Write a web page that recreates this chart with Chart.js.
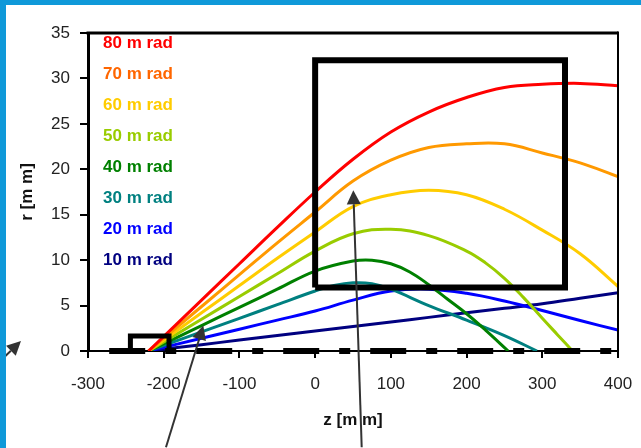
<!DOCTYPE html>
<html>
<head>
<meta charset="utf-8">
<script src="https://cdn.jsdelivr.net/npm/chart.js@4.4.1/dist/chart.umd.min.js"></script>
<style>
  html, body { margin: 0; padding: 0; background: #fff; }
</style>
</head>
<body>
<canvas id="beamChart" width="641" height="448"></canvas>
<script>
// z positions (mm) and radius (mm) for each beam angle
var zFull = [-220, -150, -100, -50, 0, 50, 100, 150, 200, 250, 300, 350, 400]
var r80 = [0, 5.6, 9.6, 13.6, 17.5, 21.1, 24.1, 26.3, 27.9, 29.0, 29.35, 29.45, 29.2]
var r70 = [0, 4.9, 8.4, 11.9, 15.3, 18.7, 21.0, 22.4, 22.8, 22.8, 21.8, 20.7, 19.2]
var r60 = [0, 4.2, 7.2, 10.2, 13.1, 15.9, 17.2, 17.7, 17.2, 15.6, 13.3, 10.7, 7.1]
var z50 = [-220, -150, -100, -50, 0, 50, 100, 150, 200, 225, 250, 275, 300, 320, 340]
var r50 = [0, 3.5, 6.0, 8.5, 11.0, 12.9, 13.4, 12.7, 11.0, 9.7, 8.0, 5.9, 3.6, 1.8, 0]
var z40 = [-220, -150, -100, -50, 0, 50, 75, 100, 125, 150, 175, 200, 225, 255]
var r40 = [0, 2.8, 4.8, 6.8, 8.8, 9.9, 10.0, 9.6, 8.7, 7.3, 5.7, 4.1, 2.3, 0]
var z30 = [-220, -150, -100, -50, 0, 25, 50, 75, 100, 150, 200, 250, 293]
var r30 = [0, 2.1, 3.6, 5.1, 6.6, 7.2, 7.5, 7.4, 6.8, 5.0, 3.4, 1.7, 0]
var r20 = [0, 1.4, 2.4, 3.4, 4.4, 5.6, 6.6, 6.8, 6.35, 5.5, 4.45, 3.35, 2.3]
var r10 = [0, 0.7, 1.2, 1.7, 2.2, 2.7, 3.2, 3.7, 4.2, 4.7, 5.2, 5.8, 6.4]

var angleLabels = ['80 m rad', '70 m rad', '60 m rad', '50 m rad', '40 m rad', '30 m rad', '20 m rad', '10 m rad']
var lineColours = ['#ff0000', '#ff9900', '#ffcc00', '#99cc00', '#008000', '#008080', '#0000ff', '#000080']
var textColours = ['#ff0000', '#ff6600', '#ffcc00', '#99cc00', '#008000', '#008080', '#0000ff', '#000080']
var seriesZ = [zFull, zFull, zFull, z50, z40, z30, zFull, zFull]
var seriesR = [r80, r70, r60, r50, r40, r30, r20, r10]

// detector outline box, small bracket near the vertex and the beam-pipe centre line
var boxZ = [0, 0, 330, 330, 0]
var boxR = [7, 32, 32, 7, 7]
var bracketZ = [-244, -244, -193, -193]
var bracketR = [0, 1.65, 1.65, 0]
var pipeZ = [-272, 400]
var pipeR = [0, 0]

// pointer arrows (tail -> tip), in axis units
var arrowTailZ = [-416, -197, 61.5]
var arrowTailR = [-1.1, -10.6, -10.6]
var arrowTipZ = [-388.5, -147.7, 50.4]
var arrowTipR = [1.1, 2.8, 17.7]

function toPoints(xs, ys) {
  return xs.map(function (x, j) { return { x: x, y: ys[j] } })
}

var datasets = []
for (var i = 0; i < seriesZ.length; i++) {
  datasets.push({
    label: angleLabels[i],
    data: toPoints(seriesZ[i], seriesR[i]),
    borderColor: lineColours[i],
    borderWidth: 3,
    pointRadius: 0,
    tension: 0.4,
    fill: false
  })
}
datasets.push({
  label: 'box',
  data: toPoints(boxZ, boxR),
  borderColor: '#000',
  borderWidth: 6,
  borderJoinStyle: 'miter',
  pointRadius: 0,
  tension: 0,
  order: -1
})
datasets.push({
  label: 'bracket',
  data: toPoints(bracketZ, bracketR),
  borderColor: '#000',
  borderWidth: 5,
  borderJoinStyle: 'miter',
  pointRadius: 0,
  tension: 0,
  clip: false,
  order: -1
})
datasets.push({
  label: 'pipe',
  data: toPoints(pipeZ, pipeR),
  borderColor: '#000',
  borderWidth: 6,
  borderDash: [36, 20, 11, 20],
  borderCapStyle: 'butt',
  pointRadius: 0,
  clip: false,
  order: -1
})

var tickFont = { family: 'Liberation Sans, Arial, sans-serif', size: 17 }
var titleFont = { family: 'Liberation Sans, Arial, sans-serif', size: 17, weight: 'bold' }

var extrasPlugin = {
  id: 'extras',
  afterDatasetsDraw: function (chart) {
    var ctx = chart.ctx
    var area = chart.chartArea
    ctx.save()
    // top and right frame
    ctx.strokeStyle = '#000'
    ctx.lineWidth = 3
    ctx.beginPath()
    ctx.moveTo(area.left - 1.5, area.top)
    ctx.lineTo(area.right, area.top)
    ctx.stroke()
    ctx.lineWidth = 2
    ctx.beginPath()
    ctx.moveTo(area.right, area.top - 1.5)
    ctx.lineTo(area.right, area.bottom)
    ctx.stroke()

    // angle labels
    ctx.font = 'bold 17px Liberation Sans, Arial, sans-serif'
    ctx.textBaseline = 'middle'
    ctx.textAlign = 'left'
    for (var i = 0; i < angleLabels.length; i++) {
      ctx.fillStyle = textColours[i]
      ctx.fillText(angleLabels[i], area.left + 15, area.top + 10.5 + i * 31)
    }
    ctx.restore()
  },
  afterDraw: function (chart) {
    var ctx = chart.ctx
    var xs = chart.scales.x
    var ys = chart.scales.y
    ctx.save()
    ctx.strokeStyle = '#333'
    ctx.fillStyle = '#333'
    ctx.lineWidth = 2
    for (var i = 0; i < arrowTipZ.length; i++) {
      var x0 = xs.getPixelForValue(arrowTailZ[i])
      var y0 = ys.getPixelForValue(arrowTailR[i])
      var x1 = xs.getPixelForValue(arrowTipZ[i])
      var y1 = ys.getPixelForValue(arrowTipR[i])
      var ang = Math.atan2(y1 - y0, x1 - x0)
      var len = 14
      var half = 7
      var bx = x1 - len * Math.cos(ang)
      var by = y1 - len * Math.sin(ang)
      ctx.beginPath()
      ctx.moveTo(x0, y0)
      ctx.lineTo(bx, by)
      ctx.stroke()
      ctx.beginPath()
      ctx.moveTo(x1, y1)
      ctx.lineTo(bx + half * Math.sin(ang), by - half * Math.cos(ang))
      ctx.lineTo(bx - half * Math.sin(ang), by + half * Math.cos(ang))
      ctx.closePath()
      ctx.fill()
    }
    // blue page frame
    ctx.fillStyle = '#0f99d9'
    ctx.fillRect(0, 0, chart.width, 5)
    ctx.fillRect(0, 0, 6, chart.height)
    ctx.restore()
  }
}

var ctx = document.getElementById('beamChart').getContext('2d')
var beamChart = new Chart(ctx, {
  type: 'line',
  data: { datasets: datasets },
  plugins: [extrasPlugin],
  options: {
    responsive: false,
    animation: false,
    layout: {
      padding: { left: 0, top: 33, right: 23, bottom: 0 }
    },
    plugins: {
      legend: { display: false },
      tooltip: { enabled: false }
    },
    scales: {
      x: {
        type: 'linear',
        min: -300,
        max: 400,
        afterFit: function (scale) {
          scale.height = 97
          scale.paddingLeft = 0
          scale.paddingRight = 0
        },
        ticks: {
          stepSize: 100,
          color: '#222',
          font: tickFont,
          padding: 16,
          maxRotation: 0
        },
        grid: {
          drawOnChartArea: false,
          drawTicks: true,
          tickLength: 7,
          color: '#000',
          lineWidth: 2
        },
        border: { color: '#000', width: 2 },
        title: {
          display: true,
          text: 'z [m m]',
          color: '#111',
          font: titleFont,
          padding: { top: 0, bottom: 17 }
        }
      },
      y: {
        type: 'linear',
        min: 0,
        max: 35,
        afterFit: function (scale) {
          scale.width = 88
          scale.paddingTop = 0
          scale.paddingBottom = 0
        },
        ticks: {
          stepSize: 5,
          color: '#222',
          font: tickFont,
          padding: 10
        },
        grid: {
          drawOnChartArea: false,
          drawTicks: true,
          tickLength: 8,
          color: '#000',
          lineWidth: 2
        },
        border: { color: '#000', width: 3 },
        title: {
          display: true,
          text: 'r [m m]',
          color: '#111',
          font: titleFont,
          padding: { top: 17, bottom: 0 }
        }
      }
    }
  }
})
</script>
</body>
</html>
